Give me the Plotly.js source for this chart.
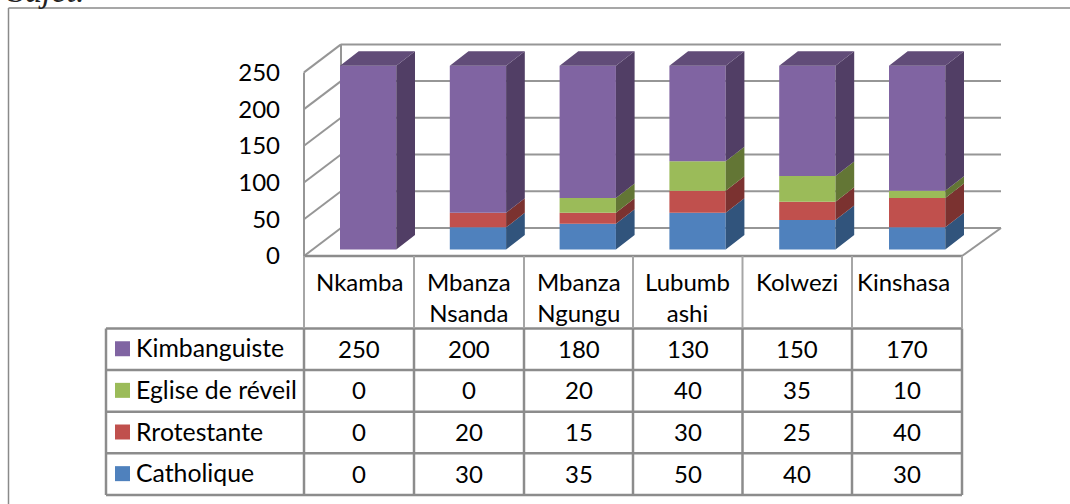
<!DOCTYPE html>
<html><head><meta charset="utf-8">
<script src="https://cdn.plot.ly/plotly-3.0.1.min.js"></script>
<style>html,body{margin:0;padding:0;background:#fff;overflow:hidden}</style>
</head><body><div id="chart" style="width:1070px;height:504px"></div>
<script>
const categories = ["Nkamba","Mbanza<br>Nsanda","Mbanza<br>Ngungu","Lubumb<br>ashi","Kolwezi","Kinshasa"];
const catholique = [0,30,35,50,40,30];
const protestante = [0,20,15,30,25,40];
const reveil = [0,0,20,40,35,10];
const kimbanguiste = [250,200,180,130,150,170];
const seriesNames = ["Kimbanguiste","Eglise de réveil","Rrotestante","Catholique"];
const yTicks = [0,50,100,150,200,250];

const W=1070,H=504;
const FONT='Lato, sans-serif', TXT=24, GRID='#969696';
const PXU=0.7345;              // pixels per value unit
const colW=109.8, x0=368.15, barW=56.3;
const ix=p=>(p-x0)/colW;       // pixel -> category axis
const barBase=249.4, axisBase=256;
const dX=18.7/colW, dY=14.5/PXU;   // bar depth in axis units
const xr=[ix(0),ix(W)];
const yr=[-(H-barBase)/PXU, barBase/PXU];
const y2r=[-(H-axisBase)/PXU, axisBase/PXU];
const xs=categories.map((_,i)=>i);
const hw=barW/colW/2;

const stack=[
 {v:catholique,front:'#4F81BD',side:'#31547C'},
 {v:protestante,front:'#C0504D',side:'#7B3230'},
 {v:reveil,front:'#9BBB59',side:'#637635'},
 {v:kimbanguiste,front:'#8064A2',side:'#513E65'}];

const traces=[];
const cum=xs.map(()=>0);
stack.forEach(s=>{
  traces.push({type:'bar',x:xs,y:s.v,base:cum.slice(),width:xs.map(()=>barW/colW),marker:{color:s.front,line:{width:0}},hoverinfo:'skip',xaxis:'x',yaxis:'y'});
  const sx=[],sy=[];
  xs.forEach(i=>{
    if(s.v[i]<=0) return;
    const r=i+hw, b=cum[i], t=cum[i]+s.v[i];
    sx.push(r,r+dX,r+dX,r,r,null); sy.push(b,b+dY,t+dY,t,b,null);
  });
  traces.push({type:'scatter',mode:'lines',x:sx,y:sy,fill:'toself',fillcolor:s.side,line:{width:0,color:s.side},hoverinfo:'skip',xaxis:'x',yaxis:'y'});
  xs.forEach(i=>cum[i]+=s.v[i]);
});
// bar tops
const tx=[],ty=[];
xs.forEach(i=>{const l=i-hw,r=i+hw,t=cum[i];
  tx.push(l,l+dX,r+dX,r,l,null); ty.push(t,t+dY,t+dY,t,t,null);});
traces.push({type:'scatter',mode:'lines',x:tx,y:ty,fill:'toself',fillcolor:'#614C78',line:{width:0,color:'#614C78'},hoverinfo:'skip',xaxis:'x',yaxis:'y'});

// walls
const shapes=[];
const ln=(x1,y1,x2,y2,w=2,c=GRID,layer='below')=>shapes.push({type:'line',xref:'paper',yref:'paper',x0:x1/W,x1:x2/W,y0:1-y1/H,y1:1-y2/H,layer,line:{color:c,width:w}});
const wallL=304,wallB=341,wallR=1001,frontR=962,dH=28;
yTicks.forEach(v=>{
  const y=axisBase-v*PXU;
  ln(wallL,y,wallB,y-dH);
  ln(wallB,y-dH,wallR,y-dH);
});
ln(wallL,axisBase,wallL,axisBase-250*PXU);
ln(wallB,axisBase-dH,wallB,axisBase-dH-250*PXU);
ln(frontR,axisBase,wallR,axisBase-dH);

// table
const rows=[328.5,370,411.7,453.3,495];
const tL=106;
const cols=[304,414,524,633,742.5,852,962];
const tabC='#8c8c8c';
ln(304,256,962,256,2.5,tabC,'above');
ln(tL,rows[0],962,rows[0],2.5,tabC,'above');
rows.slice(1).forEach(y=>ln(tL,y,962,y,2.5,tabC,'above'));
cols.forEach((x,i)=>{
  ln(x,256,x,rows[0],2,'#a6a6a6','above');
  ln(x,rows[0],x,rows[4],2.5,tabC,'above');
});
ln(tL,rows[0],tL,rows[4],2.5,tabC,'above');
// outer frame
ln(8.5,8,1070,8,1.5,'#8a8a8a','above');
ln(8.5,8,8.5,504,1.5,'#8a8a8a','above');

const ann=[];
const t=(x,y,text,anchor='center',extra={})=>ann.push(Object.assign({xref:'paper',yref:'paper',x:x/W,y:1-y/H,text,showarrow:false,xanchor:anchor,yanchor:'middle',align:'center',font:{family:FONT,size:TXT,color:'#000'}},extra));
categories.forEach((c,i)=>t((cols[i]+cols[i+1])/2-(i===5?4:0),265,c,'center',{yanchor:'top'}));
const tableVals=[kimbanguiste,reveil,protestante,catholique];
const keyCols=[stack[3].front,stack[2].front,stack[1].front,stack[0].front];
seriesNames.forEach((n,r)=>{
  const cy=(rows[r]+rows[r+1])/2;
  t(134,cy-1.5,n,'left',{font:{family:FONT,size:24.8,color:'#000'}});
  shapes.push({type:'rect',xref:'paper',yref:'paper',x0:115/W,x1:130/W,y0:1-(cy-8)/H,y1:1-(cy+7)/H,fillcolor:keyCols[r],line:{width:0},layer:'above'});
  tableVals[r].forEach((v,i)=>t((cols[i]+cols[i+1])/2,cy-1,String(v)));
});
t(6,-10,'<i>Sujet.</i>','left',{font:{family:'Liberation Serif, serif',size:34,color:'#222'}});

const layout={width:W,height:H,margin:{l:0,r:0,t:0,b:0},paper_bgcolor:'#fff',plot_bgcolor:'rgba(0,0,0,0)',showlegend:false,
  barmode:'overlay',
  xaxis:{range:xr,domain:[0,1],visible:false,fixedrange:true},
  yaxis:{range:yr,domain:[0,1],visible:false,fixedrange:true},
  yaxis2:{range:y2r,domain:[0,1],overlaying:'y',anchor:'free',position:(wallL-24)/W,side:'left',tickmode:'array',tickvals:yTicks,ticktext:yTicks.map(String),showgrid:false,zeroline:false,showline:false,ticks:'',tickfont:{family:FONT,size:TXT,color:'#000'},fixedrange:true},
  shapes,annotations:ann};
traces.push({type:'scatter',mode:'markers',x:[ix(wallL)],y:[0],yaxis:'y2',xaxis:'x',marker:{opacity:0,size:1},hoverinfo:'skip'});
Plotly.newPlot('chart',traces,layout,{staticPlot:true,displayModeBar:false});
</script></body></html>
